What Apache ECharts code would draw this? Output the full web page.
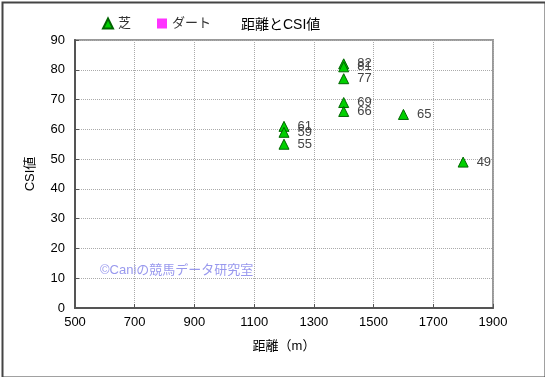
<!DOCTYPE html>
<html>
<head>
<meta charset="utf-8">
<script src="https://cdn.jsdelivr.net/npm/echarts@6/dist/echarts.min.js"></script>
<style>
  html, body { margin: 0; padding: 0; background: #fff; }
  #main { width: 545px; height: 377px; }
</style>
</head>
<body>
<div id="main"></div>
<script>
var seriesNames = ['芝', 'ダート'];
var turfDistance = [1200, 1200, 1200, 1400, 1400, 1400, 1400, 1400, 1600, 1800];
var turfCsi = [61, 59, 55, 82, 81, 77, 69, 66, 65, 49];
var dirtDistance = [];
var dirtCsi = [];

function pairs(xs, ys) {
    var out = [];
    for (var i = 0; i < xs.length; i++) out.push([xs[i], ys[i]]);
    return out;
}

var font = '"Liberation Sans", "Noto Sans CJK JP", sans-serif';
var myChart = echarts.init(document.getElementById('main'));
var option = {
    backgroundColor: '#fff',
    animation: false,
    textStyle: { fontFamily: font },
    title: {
        text: '距離とCSI値',
        left: 236,
        top: 13,
        textStyle: { fontSize: 14, fontWeight: 'normal', color: '#000', fontFamily: font }
    },
    legend: {
        left: 97,
        top: 12,
        itemWidth: 10,
        itemHeight: 10,
        itemGap: 26,
        textStyle: { fontSize: 13, color: '#333', fontFamily: font },
        data: [
            { name: seriesNames[0], icon: 'triangle' },
            { name: seriesNames[1], icon: 'rect' }
        ]
    },
    grid: {
        left: 75,
        right: 52,
        top: 40,
        bottom: 69,
        show: true,
        borderColor: '#999',
        borderWidth: 2
    },
    xAxis: {
        type: 'value',
        min: 500,
        max: 1900,
        interval: 200,
        name: '距離（m）',
        nameLocation: 'middle',
        nameGap: 32,
        nameTextStyle: { fontSize: 13, color: '#000', fontFamily: font },
        axisLine: { lineStyle: { color: '#555', width: 2 } },
        axisTick: { inside: true, length: 4, lineStyle: { color: '#555' } },
        axisLabel: { fontSize: 13, color: '#000', margin: 8, formatter: function (v) { return String(v); } },
        splitLine: { lineStyle: { color: '#aaa', type: 'dotted' } }
    },
    yAxis: {
        type: 'value',
        min: 0,
        max: 90,
        interval: 10,
        name: 'CSI値',
        nameLocation: 'middle',
        nameGap: 38,
        nameTextStyle: { fontSize: 13, color: '#000', fontFamily: font },
        axisLine: { show: true, lineStyle: { color: '#555', width: 2 } },
        axisTick: { show: true, inside: true, length: 4, lineStyle: { color: '#555' } },
        axisLabel: { fontSize: 13, color: '#000', margin: 10 },
        splitLine: { lineStyle: { color: '#aaa', type: 'dotted' } }
    },
    graphic: [{
        type: 'rect',
        left: 0, top: 0,
        shape: { x: 0, y: 0, width: 543, height: 375 },
        style: { fill: 'none', stroke: '#444', lineWidth: 2 },
        silent: true
    }, {
        type: 'text',
        left: 100,
        top: 264,
        style: {
            text: '©Caniの競馬データ研究室',
            fill: '#9999ee',
            fontSize: 13,
            fontFamily: font
        }
    }],
    series: [{
        name: seriesNames[0],
        type: 'scatter',
        symbol: 'triangle',
        symbolSize: 10,
        itemStyle: { color: '#00d000', borderColor: '#006600', borderWidth: 1, opacity: 1 },
        label: {
            show: true,
            position: 'right',
            distance: 8,
            fontSize: 13,
            color: '#444',
            formatter: function (p) { return p.value[1]; }
        },
        data: pairs(turfDistance, turfCsi)
    }, {
        name: seriesNames[1],
        type: 'scatter',
        symbol: 'rect',
        symbolSize: 10,
        itemStyle: { color: '#ff00ff' },
        data: pairs(dirtDistance, dirtCsi)
    }]
};
myChart.setOption(option);
</script>
</body>
</html>
